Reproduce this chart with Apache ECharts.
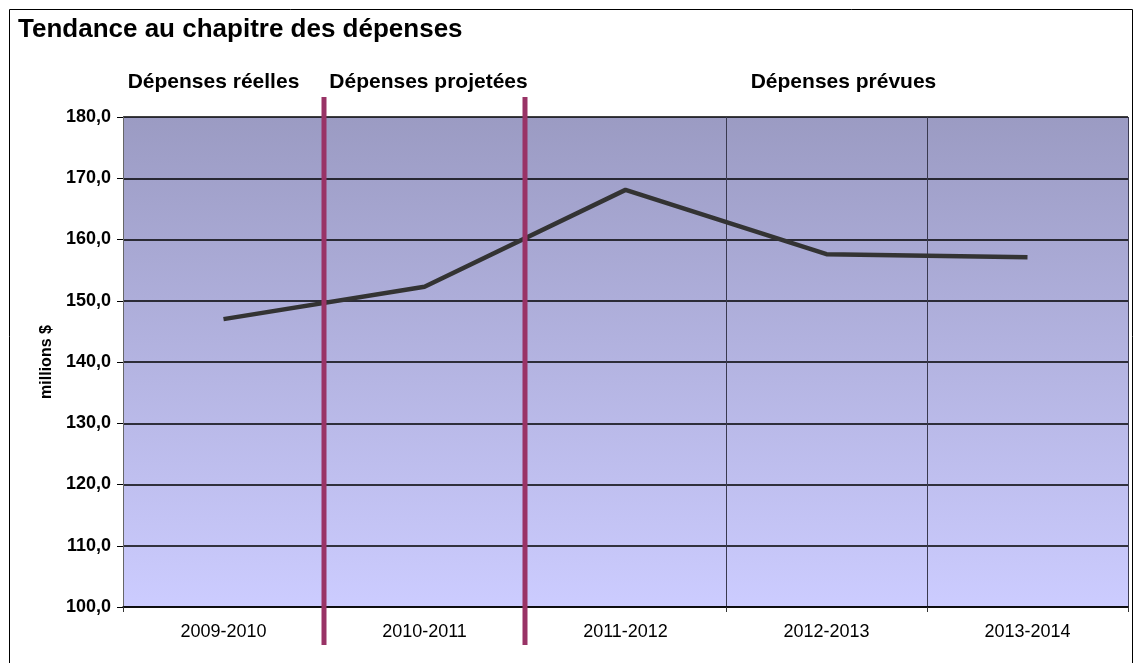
<!DOCTYPE html>
<html><head><meta charset="utf-8">
<script src="https://cdn.jsdelivr.net/npm/echarts@6/dist/echarts.min.js"></script>
<style>html,body{margin:0;padding:0;background:#fff;}#c{width:1135px;height:663px;}</style>
</head><body><div id="c"></div>
<script>
const categories = ['2009-2010','2010-2011','2011-2012','2012-2013','2013-2014'];
const spending = [147.0, 152.3, 168.1, 157.6, 157.1];
const yTicks = {min: 100, max: 180, interval: 10};
const sectionLabels = ['Dépenses réelles','Dépenses projetées','Dépenses prévues'];

const chart = echarts.init(document.getElementById('c'), null, {renderer:'canvas'});
const font = '"Liberation Sans", Arial, sans-serif';
chart.setOption({
  animation: false,
  backgroundColor: '#fff',
  grid: {
    left: 123, right: 7, top: 117, bottom: 56, show: true,
    borderWidth: 0,
    backgroundColor: new echarts.graphic.LinearGradient(0,0,0,1,[
      {offset:0, color:'#9b9bc3'},{offset:1, color:'#ccccff'}])
  },
  xAxis: {
    type: 'category', data: categories, boundaryGap: true,
    axisLine: {show: true, lineStyle: {color: '#000', width: 1.5}},
    axisTick: {show: true, length: 5, lineStyle: {color: '#333'}},
    splitLine: {show: true, lineStyle: {color: '#3a3a50', width: 1}},
    axisLabel: {color: '#000', fontFamily: font, fontSize: 18, margin: 16}
  },
  yAxis: {
    type: 'value', min: yTicks.min, max: yTicks.max, interval: yTicks.interval,
    name: 'millions $', nameLocation: 'middle', nameGap: 68, nameRotate: 90,
    nameTextStyle: {color: '#000', fontFamily: font, fontSize: 16, fontWeight: 'bold'},
    axisLine: {show: true, lineStyle: {color: '#666', width: 1}},
    axisTick: {show: true, length: 6, lineStyle: {color: '#000'}},
    splitLine: {show: true, lineStyle: {color: '#000', width: 1.5}},
    axisLabel: {color: '#000', fontFamily: font, fontSize: 18, fontWeight: 'bold', margin: 12,
      formatter: v => v.toFixed(1).replace('.', ',')}
  },
  series: [{
    type: 'line', data: spending, symbol: 'none',
    lineStyle: {color: '#333333', width: 4.5}, z: 5
  }]
});

// Boundaries between sections computed from the category scale
const c0 = chart.convertToPixel({xAxisIndex:0}, categories[0]);
const c1 = chart.convertToPixel({xAxisIndex:0}, categories[1]);
const c2 = chart.convertToPixel({xAxisIndex:0}, categories[2]);
const c4 = chart.convertToPixel({xAxisIndex:0}, categories[4]);
const b1 = (c0 + c1) / 2, b2 = (c1 + c2) / 2;

chart.setOption({
  graphic: [
    {type:'rect', shape:{x:9.5, y:9.5, width:1123, height:700}, style:{fill:null, stroke:'#000', lineWidth:1}, z:0, silent:true},
    {type:'text', x: 18, y: 30, style:{text:'Tendance au chapitre des dépenses', font:'bold 26px '+font, fill:'#000', verticalAlign:'middle'}},
    {type:'line', shape:{x1:b1, y1:97, x2:b1, y2:645}, style:{stroke:'#993366', lineWidth:5}, z:10},
    {type:'line', shape:{x1:b2, y1:97, x2:b2, y2:645}, style:{stroke:'#993366', lineWidth:5}, z:10},
    {type:'text', x: c0 - 10, y: 82, style:{text: sectionLabels[0], font:'bold 21px '+font, fill:'#000', align:'center', verticalAlign:'middle'}},
    {type:'text', x: c1 + 4, y: 82, style:{text: sectionLabels[1], font:'bold 21px '+font, fill:'#000', align:'center', verticalAlign:'middle'}},
    {type:'text', x: (c2 + c4) / 2 + 17, y: 82, style:{text: sectionLabels[2], font:'bold 21px '+font, fill:'#000', align:'center', verticalAlign:'middle'}}
  ]
});
</script></body></html>
